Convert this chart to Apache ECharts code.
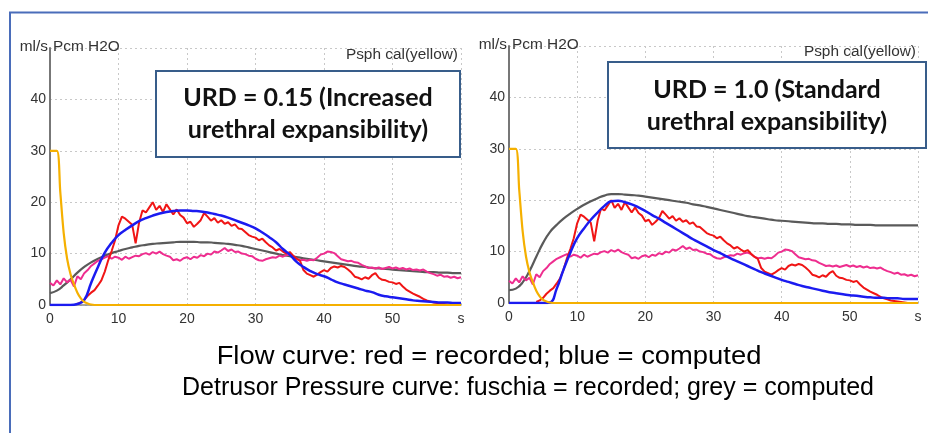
<!DOCTYPE html>
<html>
<head>
<meta charset="UTF-8">
<title>URD</title>
<script src="https://cdn.jsdelivr.net/npm/echarts@6.0.0/dist/echarts.min.js"></script>
<style>
  * { margin: 0; padding: 0; }
  body { background: #fff; }
  #chart { width: 928px; height: 433px; }
</style>
</head>
<body>
<div id="chart"></div>
<script>
// x tick labels (last tick shows the unit)
const xTicks = ['0', '10', '20', '30', '40', '50', 's'];

// Psph cal (yellow), same in both panels
const psphT = [0, 1, 1.5, 2, 2.5, 3, 3.5, 4, 4.5, 5, 5.5, 6, 7, 60];
const psphV = [30, 30, 22, 14, 9, 6, 4, 2.4, 1.3, 0.6, 0.3, 0.1, 0, 0];

// recorded flow (red), sampled every 0.5 s, same in both panels
const flowRec = [
  null, null, null, null, null, null, null, null, 0.2, 0.5,
  1.0, 1.8, 2.4, 2.9, 3.8, 4.8, 6.5, 8.7, 10.5, 12.6,
  15.5, 17.2, 16.8, 16.2, 15.6, 12.0, 16.0, 18.4, 18.0, 19.0,
  20.0, 18.5, 19.3, 18.1, 19.6, 18.6, 17.6, 18.6, 17.5, 17.0,
  15.9, 16.2, 15.2, 15.8, 16.5, 17.9, 17.2, 16.4, 16.9, 16.0,
  16.5, 15.8, 16.1, 15.4, 15.7, 14.9, 14.8, 14.2, 13.6, 13.3,
  13.1, 12.6, 12.9, 12.2, 11.6, 11.2, 10.6, 10.9, 10.4, 10.0,
  10.3, 9.6, 9.0, 8.6, 6.8, 6.1, 5.8, 5.5, 5.9, 6.4,
  6.8, 6.5, 7.2, 7.5, 7.3, 7.6, 7.4, 6.9, 6.3, 5.5,
  5.3, 5.0, 5.4, 5.1, 5.8, 6.2, 5.3, 4.9, 4.8, 4.5,
  4.4, 4.1, 4.3, 3.6, 3.0, 2.6, 2.2, 1.9, 1.6, 1.2,
  0.9, 0.7, 0.5, 0.4, 0.3, 0.2, 0.1, 0, 0, 0,
  0
];

// recorded detrusor pressure (fuschia), every 0.5 s
const pdetRec = [
  4.3, 3.8, 4.8, 4.0, 5.2, 4.4, 4.9, 3.6, 5.6, 5.0,
  6.2, 6.8, 7.6, 8.1, 8.6, 8.9, 9.2, 9.5, 9.0, 9.4,
  9.2, 8.8, 9.4, 9.0, 9.3, 9.6, 9.5, 9.9, 10.1, 9.8,
  10.3, 10.0, 10.4, 9.9, 9.6, 9.4, 8.7, 8.9, 8.6, 9.1,
  9.3, 8.9, 9.4, 9.2, 9.7, 9.5, 10.0, 9.8, 10.4, 10.2,
  10.6, 11.1, 10.5, 10.8, 10.3, 10.4, 10.0, 9.9, 9.6, 9.5,
  9.0, 8.7, 8.6, 8.9, 9.1, 9.3, 9.2, 9.6, 9.4, 9.7,
  9.8, 9.5, 9.0, 8.7, 8.8, 8.6, 8.8, 8.7, 9.2, 9.8,
  10.0, 10.4, 10.3, 10.1, 9.5, 8.9, 8.7, 8.5, 8.6, 8.3,
  8.2, 7.8, 7.5, 7.2, 7.3, 7.1, 7.3, 7.0, 7.2, 7.4,
  7.1, 7.3, 7.0, 7.2, 6.9, 7.1, 6.8, 6.9, 6.7, 6.9,
  6.5, 6.2, 6.0, 5.7, 5.9, 5.5, 5.6, 5.3, 5.5, 5.2,
  5.4
];

// computed curves, every 1 s (0..60)
// URD = 0.15
const flowCalcA = [
  0, 0, 0, 0, 0.2, 1.0, 4.3, 7.4, 10.2, 12.1,
  13.6, 14.6, 15.5, 16.3, 16.9, 17.4, 17.8, 18.1, 18.3, 18.4,
  18.4, 18.3, 18.2, 18.0, 17.7, 17.4, 17.0, 16.5, 16.0, 15.5,
  14.9, 14.1, 13.2, 12.2, 10.9, 9.8, 8.4, 7.4, 6.6, 6.0,
  5.6, 5.0, 4.4, 4.0, 3.6, 3.2, 2.8, 2.5, 2.0, 1.7,
  1.5, 1.3, 1.1, 0.9, 0.8, 0.7, 0.6, 0.5, 0.5, 0.4,
  0.4
];
const pdetCalcA = [
  2.3, 2.8, 3.8, 5.0, 6.3, 7.4, 8.3, 9.0, 9.6, 10.1,
  10.5, 10.9, 11.2, 11.5, 11.7, 11.9, 12.0, 12.1, 12.2, 12.3,
  12.3, 12.3, 12.2, 12.2, 12.1, 12.0, 11.9, 11.7, 11.5, 11.2,
  10.9, 10.6, 10.3, 10.0, 9.7, 9.5, 9.3, 9.1, 8.9, 8.7,
  8.5, 8.3, 8.1, 7.9, 7.7, 7.5, 7.4, 7.2, 7.1, 7.0,
  6.9, 6.8, 6.7, 6.6, 6.5, 6.4, 6.4, 6.3, 6.3, 6.2,
  6.2
];
// URD = 1.0
const flowCalcB = [
  0, 0, 0, 0, 0, 0, 0.1, 2.8, 6.5, 9.8,
  12.6, 14.5, 16.2, 17.6, 18.9, 19.8, 19.9, 19.6, 19.2, 18.6,
  17.9, 17.1, 16.4, 15.6, 14.8, 14.0, 13.2, 12.4, 11.7, 11.0,
  10.3, 9.7, 9.0, 8.4, 7.8, 7.2, 6.6, 6.0, 5.5, 5.0,
  4.5, 4.1, 3.7, 3.3, 3.0, 2.7, 2.4, 2.1, 1.9, 1.7,
  1.5, 1.4, 1.2, 1.1, 1.0, 1.0, 0.9, 0.9, 0.8, 0.8,
  0.8
];
const pdetCalcB = [
  2.5, 2.8, 4.0, 6.2, 9.0, 11.7, 13.8, 15.2, 16.4, 17.4,
  18.3, 19.1, 19.8, 20.4, 20.9, 21.2, 21.2, 21.1, 21.0, 20.9,
  20.7, 20.5, 20.3, 20.1, 19.9, 19.7, 19.5, 19.2, 19.0, 18.7,
  18.4, 18.1, 17.8, 17.5, 17.2, 16.9, 16.7, 16.5, 16.3, 16.1,
  16.0, 15.9, 15.8, 15.7, 15.6, 15.5, 15.5, 15.4, 15.4, 15.3,
  15.3, 15.2, 15.2, 15.2, 15.1, 15.1, 15.1, 15.1, 15.1, 15.1,
  15.1
];

const boxA = 'URD = 0.15 (Increased\nurethral expansibility)';
const boxB = 'URD = 1.0 (Standard\nurethral expansibility)';
const caption1 = 'Flow curve: red = recorded; blue = computed';
const caption2 = 'Detrusor Pressure curve: fuschia = recorded; grey = computed';

function pairs(step, vals) {
  return vals.map((v, i) => [i * step, v]);
}
function pairsT(ts, vals) {
  return ts.map((t, i) => [t, vals[i]]);
}

const labelFont = { fontFamily: 'Liberation Sans', fontSize: 14, color: '#333' };
const dotted = { show: true, lineStyle: { color: '#c8c8c8', type: [2, 3], width: 1 } };
const smallFont = '14px "Liberation Sans"';

function xAx(gi) {
  return {
    gridIndex: gi, type: 'value', min: 0, max: 60, interval: 10,
    axisLine: { show: true, onZero: false, lineStyle: { color: '#888', width: 1.5 } },
    axisTick: { show: false },
    splitLine: dotted,
    axisLabel: Object.assign({ margin: 7, formatter: v => xTicks[v / 10] }, labelFont)
  };
}
function yAx(gi) {
  return {
    gridIndex: gi, type: 'value', min: 0, max: 50, interval: 10,
    axisLine: { show: true, lineStyle: { color: '#777', width: 2 } },
    axisTick: { show: false },
    splitLine: dotted,
    axisLabel: Object.assign({ margin: 4, formatter: v => (v === 50 ? '' : String(v)) }, labelFont)
  };
}
function line(gi, data, color, width, smooth) {
  return {
    type: 'line', xAxisIndex: gi, yAxisIndex: gi, data: data,
    showSymbol: false, smooth: smooth, connectNulls: false,
    lineStyle: { color: color, width: width }, silent: true
  };
}
function panel(gi, flowCalc, pdetCalc) {
  return [
    line(gi, pairs(1, pdetCalc), '#5a5a5a', 2.2, true),
    line(gi, pairs(0.5, pdetRec), '#ee2d8f', 2, false),
    line(gi, pairs(0.5, flowRec), '#f01515', 2, false),
    line(gi, pairs(1, flowCalc), '#1b1bf0', 2.5, true),
    line(gi, pairsT(psphT, psphV), '#f5b000', 2.2, 0.3)
  ];
}
function smallText(x, y, text, align) {
  return { type: 'text', z: 100, x: x, y: y, scaleX: 1.1,
    style: { text: text, align: align, verticalAlign: 'middle', font: smallFont, fill: '#333' } };
}

const chart = echarts.init(document.getElementById('chart'));
chart.setOption({
  animation: false,
  backgroundColor: '#fff',
  grid: [
    { left: 50, top: 48, width: 411, height: 257 },
    { left: 509, top: 46, width: 409, height: 257 }
  ],
  xAxis: [xAx(0), xAx(1)],
  yAxis: [yAx(0), yAx(1)],
  series: panel(0, flowCalcA, pdetCalcA).concat(panel(1, flowCalcB, pdetCalcB)),
  graphic: [
    { type: 'polyline', z: 100, shape: { points: [[10, 433], [10, 12.5], [928, 12.5]] },
      style: { stroke: '#4a6dba', lineWidth: 2, fill: null } },
    // axis names
    smallText(48, 47, 'ml/s', 'right'),
    smallText(53, 47, 'Pcm H2O', 'left'),
    smallText(507, 45, 'ml/s', 'right'),
    smallText(512, 45, 'Pcm H2O', 'left'),
    smallText(458, 55, 'Psph cal(yellow)', 'right'),
    smallText(916, 52, 'Psph cal(yellow)', 'right'),
    // text boxes
    { type: 'rect', z: 100, shape: { x: 156, y: 71, width: 304, height: 86 },
      style: { fill: '#fff', stroke: '#385d8a', lineWidth: 2 } },
    { type: 'text', z: 101, x: 308, y: 114, style: { text: boxA, align: 'center', verticalAlign: 'middle', font: 'bold 25px Lato', lineHeight: 32, fill: '#111' } },
    { type: 'rect', z: 100, shape: { x: 608, y: 62, width: 318, height: 86 },
      style: { fill: '#fff', stroke: '#385d8a', lineWidth: 2 } },
    { type: 'text', z: 101, x: 767, y: 106, style: { text: boxB, align: 'center', verticalAlign: 'middle', font: 'bold 25px Lato', lineHeight: 32, fill: '#111' } },
    // caption
    { type: 'text', z: 100, x: 489, y: 357, scaleX: 1.095, style: { text: caption1, align: 'center', verticalAlign: 'middle', font: '25px "Liberation Sans"', fill: '#000' } },
    { type: 'text', z: 100, x: 528, y: 388, style: { text: caption2, align: 'center', verticalAlign: 'middle', font: '25px "Liberation Sans"', fill: '#000' } }
  ]
});
</script>
</body>
</html>
